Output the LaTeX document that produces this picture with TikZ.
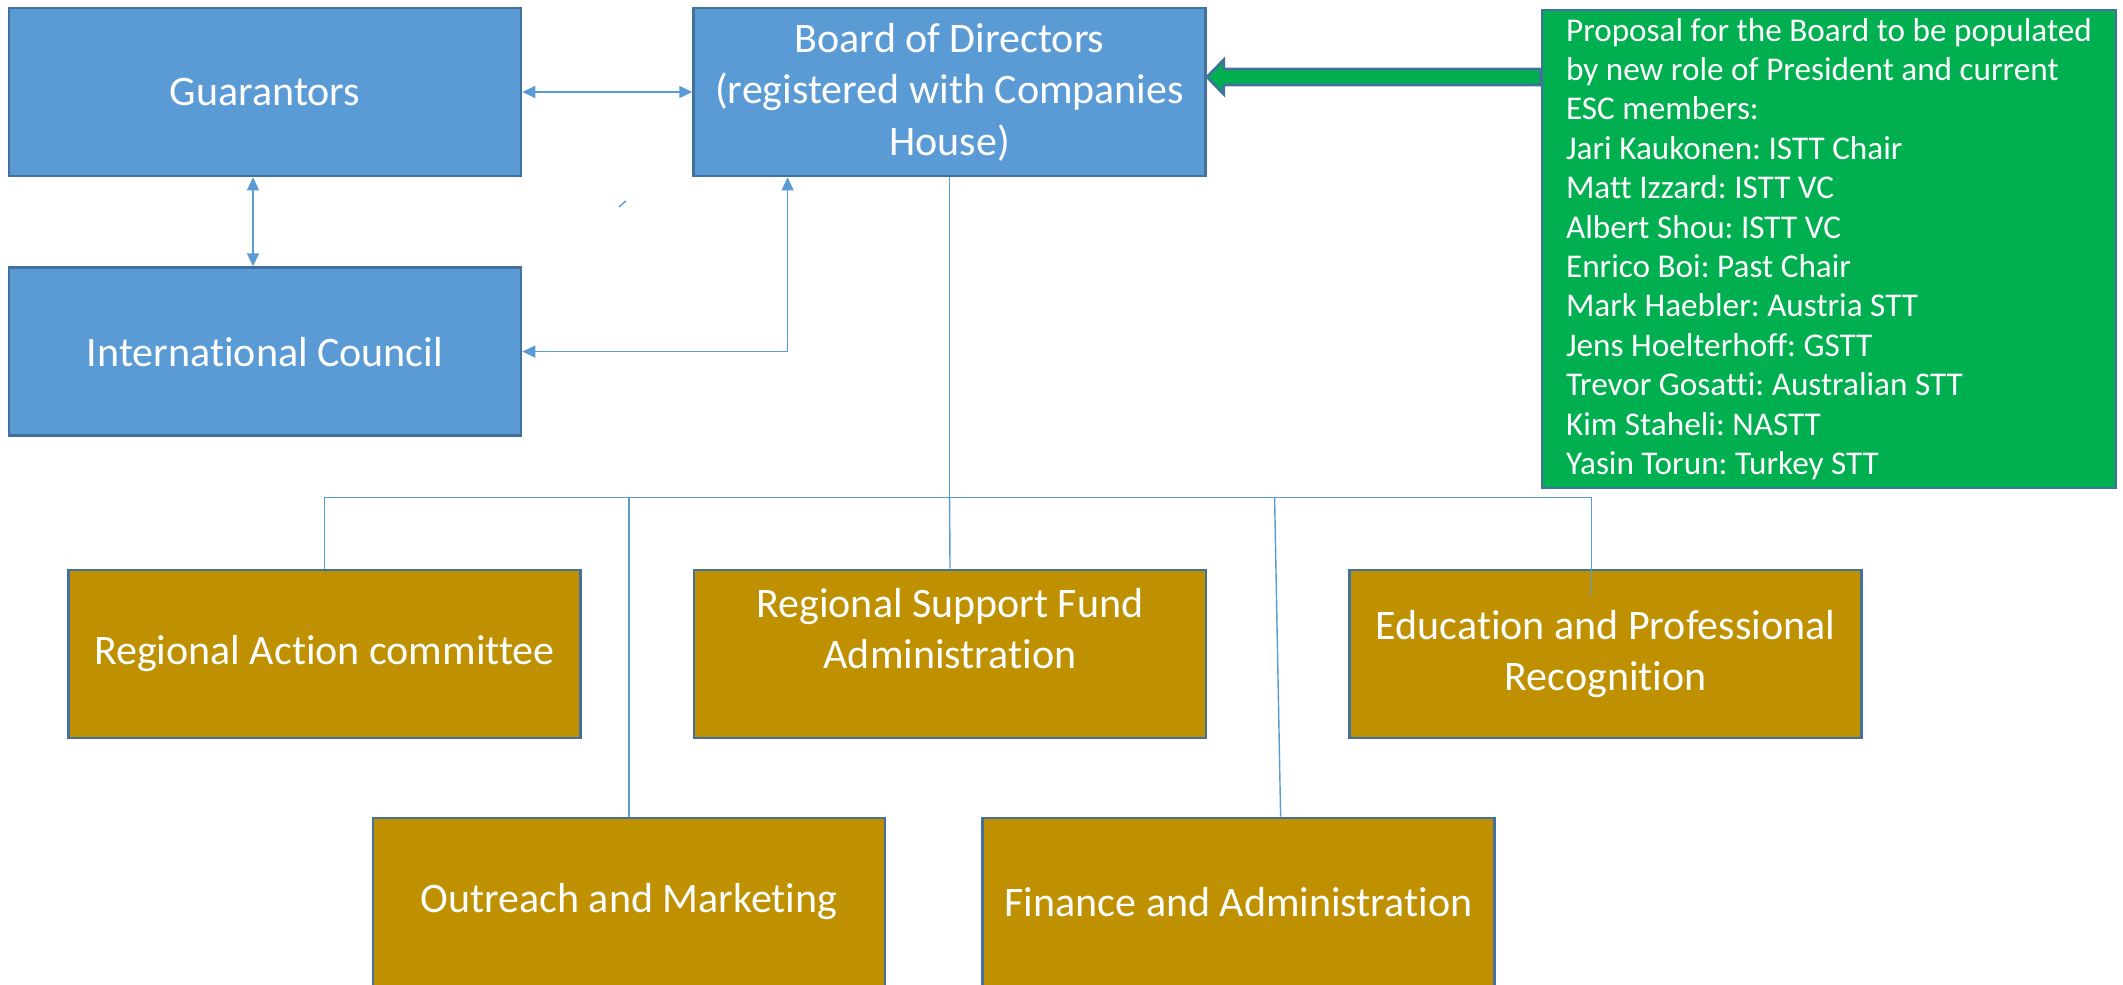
\documentclass[tikz,border=0pt]{standalone}
\usepackage{fontspec}
\setmainfont{Carlito}[Ligatures=NoCommon]
\frenchspacing
\usepackage{tikz}
\usetikzlibrary{positioning,arrows.meta}
\definecolor{orgblue}{RGB}{91,155,213}
\definecolor{orgedge}{RGB}{65,113,156}
\definecolor{orggold}{RGB}{191,144,0}
\definecolor{orggreen}{RGB}{0,176,80}
\def\unitwidth{256pt}
\def\unitheight{84pt}
\tikzstyle{unit}=[draw=orgedge, line width=1.3pt, text=white,
    font=\fontsize{21}{25.7}\selectfont, align=center, inner sep=4pt,
    minimum width=\unitwidth, minimum height=\unitheight]
\tikzstyle{govbox}=[style=unit, fill=orgblue]
\tikzstyle{cttbox}=[style=unit, fill=orggold]
\tikzstyle{notebox}=[style=unit, fill=orggreen, align=left,
    font=\fontsize{16.6}{19.7}\selectfont,
    minimum width=287pt, minimum height=238pt]
\tikzstyle{link}=[draw=orgblue, line width=0.7pt]
\tikzstyle{twoway}=[style=link, {Triangle[length=6.5pt,width=6pt]}-{Triangle[length=6.5pt,width=6pt]}]
\tikzstyle{bigarrow}=[draw=orgedge, line width=1.3pt, fill=orggreen, line join=miter]

\begin{document}
\begin{tikzpicture}[x=0.5pt, y=-0.5pt]
    \useasboundingbox (0,0) rectangle (2123,984);
    % governance
    \node[govbox] (guar) at (265,92) {Guarantors};
    \node[govbox, right=85pt of guar] (board) {Board of Directors\\(registered with Companies\\House)};
    \node[govbox, below=44.5pt of guar] (council) {International Council};
    \node[notebox] (proposal) at (1829,249) {Proposal for the Board to be populated\\
        by new role of President and current\\
        ESC members:\\
        Jari Kaukonen: ISTT Chair\\
        Matt Izzard: ISTT VC\\
        Albert Shou: ISTT VC\\
        Enrico Boi: Past Chair\\
        Mark Haebler: Austria STT\\
        Jens Hoelterhoff: GSTT\\
        Trevor Gosatti: Australian STT\\
        Kim Staheli: NASTT\\
        Yasin Torun: Turkey STT};
    % committees
    \node[cttbox] (rsf) at (950,654) {Regional Support Fund\\Administration\\\mbox{}};
    \node[cttbox, left=55.5pt of rsf] (rac) {Regional Action committee};
    \node[cttbox, right=70.5pt of rsf] (edu) {Education and Professional\\Recognition};
    \node[cttbox] (outreach) at (629,902) {Outreach and Marketing};
    \node[cttbox, right=47.5pt of outreach] (finance) {Finance and Administration};

    \draw[twoway] (guar) -- (board);
    \draw[twoway] ([xshift=-6pt]guar.south) -- ([xshift=-6pt]council.north);
    \draw[twoway] (council.east) -| ([xshift=-81pt]board.south);
    \draw[link] (619,207) -- (626,201);

    % proposal arrow
    \coordinate (tip) at ([yshift=7.5pt]board.east);
    \coordinate (tail) at (tip -| proposal.west);
    \draw[bigarrow] (tip) -- ++(8.5pt,8.75pt) -- ++(0,-4.75pt) -- ([yshift=4pt]tail)
        -- ([yshift=-4pt]tail) -- ([xshift=8.5pt,yshift=-4pt]tip)
        -- ([xshift=8.5pt,yshift=-8.75pt]tip) -- cycle;

    % tree
    \coordinate (busmid) at ([yshift=-160pt]board.south);
    \coordinate (busleft) at (busmid -| rac.north);
    \path (busmid -| edu.north) ++(-7pt,0) coordinate (busright);
    \path (busmid -| finance.north) ++(18pt,0) coordinate (finjoin);
    \draw[link] (board.south) -- (busmid);
    \draw[link] (busleft) -- (busright);
    \draw[link] (busleft) -- (rac.north);
    \draw[link] (busmid -| outreach.north) -- (outreach.north);
    \draw[link] (busmid) -- (rsf.north);
    \draw[link] (finjoin) -- ([xshift=21pt]finance.north);
    \draw[link] (busright) -- ([xshift=-7pt,yshift=-13.5pt]edu.north);
\end{tikzpicture}
\end{document}
